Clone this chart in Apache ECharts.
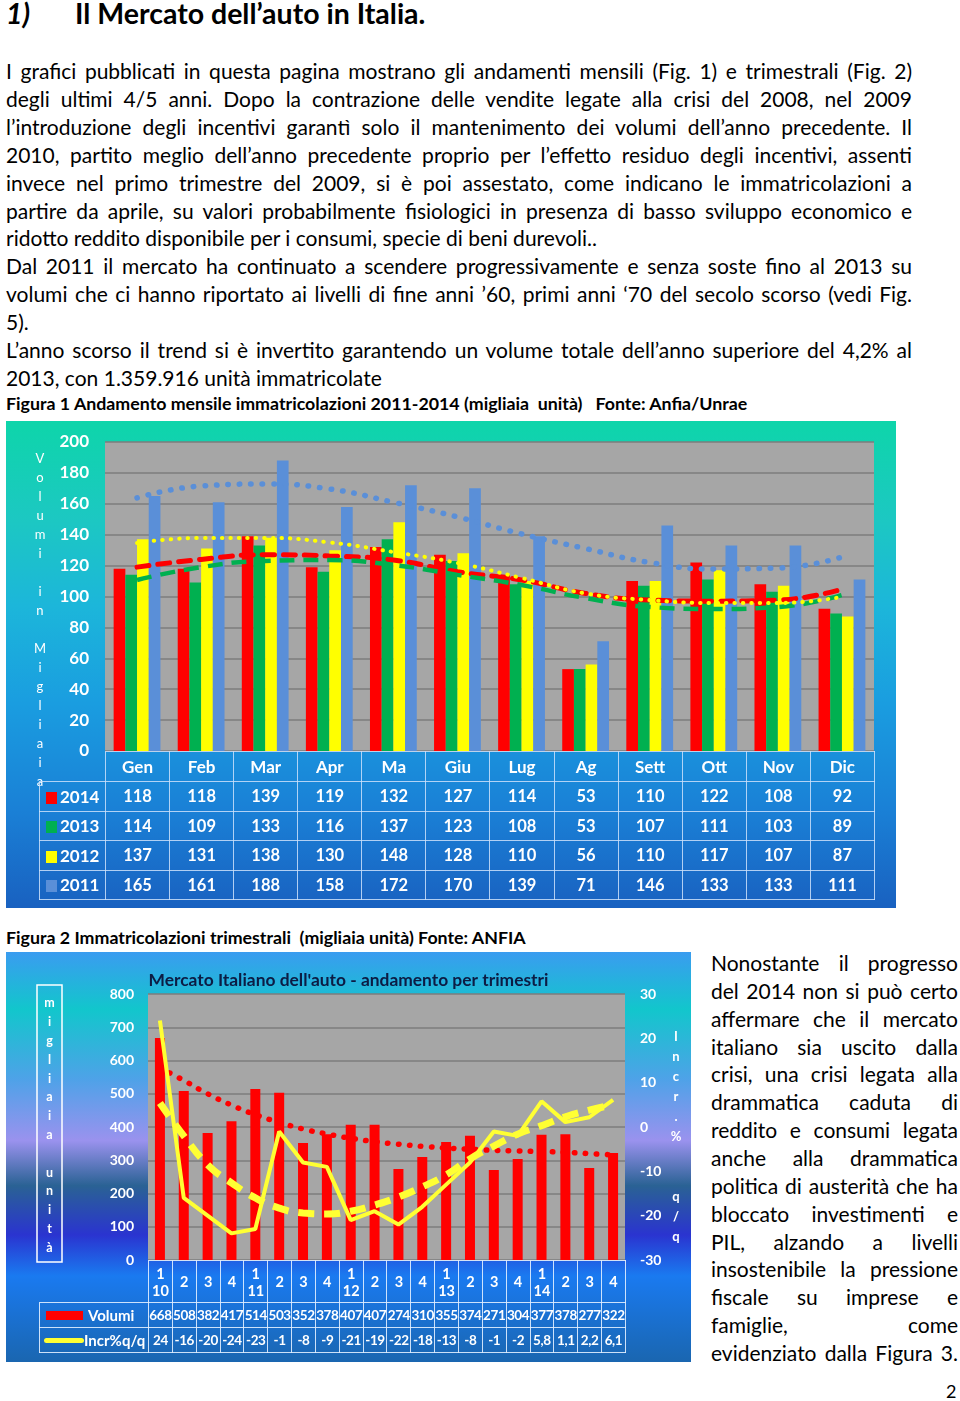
<!DOCTYPE html>
<html><head><meta charset="utf-8">
<script src="https://cdn.jsdelivr.net/npm/echarts/dist/echarts.min.js"></script>
<style>
body{margin:0;width:960px;height:1401px;position:relative;background:#fff;font-family:Lato,sans-serif;color:#000;overflow:hidden}
.abs{position:absolute}
.j{text-align:justify;text-align-last:justify}
.para{left:6px;width:906px;top:57px;font-size:21px;line-height:27.9px}
.rcol{left:711px;width:247px;top:949px;font-size:21px;line-height:27.86px}
.cap{font-weight:bold;font-size:17.8px;left:6px;white-space:pre}
.fig{position:absolute}
.fig .ch{position:absolute;left:0;top:0}
table{border-collapse:collapse;position:absolute;table-layout:fixed;color:#fff;font-weight:bold;font-family:Lato,sans-serif}
table td{padding:0;text-align:center;overflow:visible;white-space:nowrap}
.t1 td{border:1.5px solid rgba(205,225,250,0.85);font-size:16.5px}
.t1 td.corner{border-top:none;border-left:none}
.t1 .sw{display:inline-block;width:11px;height:12px;margin-right:3px;vertical-align:-1px}
.t2 td{border:1.5px solid rgba(225,238,255,0.9);font-size:13.5px;letter-spacing:-0.4px}
.t2 td.corner{border-top:none;border-left:none}
.t2 td.hd{font-size:14.5px;line-height:17px;letter-spacing:0}
.t2 td.leg{text-align:left;font-size:15px;letter-spacing:0}
</style></head>
<body>
<div class="abs" style="left:6px;top:-4px;font-size:28.5px;font-weight:bold;line-height:34px"><i>1)</i></div>
<div class="abs" style="left:75px;top:-4px;font-size:28.5px;font-weight:bold;line-height:34px">Il Mercato dell’auto in Italia.</div>

<div class="abs para">
<div class="j">I grafici pubblicati in questa pagina mostrano gli andamenti mensili (Fig. 1) e trimestrali (Fig. 2)</div>
<div class="j">degli ultimi 4/5 anni. Dopo la contrazione delle vendite legate alla crisi del 2008, nel 2009</div>
<div class="j">l’introduzione degli incentivi garantì solo il mantenimento dei volumi dell’anno precedente. Il</div>
<div class="j">2010, partito meglio dell’anno precedente proprio per l’effetto residuo degli incentivi, assenti</div>
<div class="j">invece nel primo trimestre del 2009, si è poi assestato, come indicano le immatricolazioni a</div>
<div class="j">partire da aprile, su valori probabilmente fisiologici in presenza di basso sviluppo economico e</div>
<div>ridotto reddito disponibile per i consumi, specie di beni durevoli..</div>
<div class="j">Dal 2011 il mercato ha continuato a scendere progressivamente e senza soste fino al 2013 su</div>
<div class="j">volumi che ci hanno riportato ai livelli di fine anni ’60, primi anni ‘70 del secolo scorso (vedi Fig.</div>
<div>5).</div>
<div class="j">L’anno scorso il trend si è invertito garantendo un volume totale dell’anno superiore del 4,2% al</div>
<div>2013, con 1.359.916 unità immatricolate</div>
</div>

<div class="abs cap" style="top:392px;line-height:22px">Figura 1 Andamento mensile immatricolazioni 2011-2014 (migliaia  unità)   Fonte: Anfia/Unrae</div>

<div class="fig" id="fig1" style="left:6px;top:421px;width:890px;height:487px">
  <div class="ch" id="c1" style="width:890px;height:487px;box-shadow:inset 0 0 0 1px #8c8c8c"></div>
</div>

<div class="abs cap" style="top:926px;line-height:22px">Figura 2 Immatricolazioni trimestrali  (migliaia unità) Fonte: ANFIA</div>

<div class="fig" id="fig2" style="left:6px;top:952px;width:685px;height:410px">
  <div class="ch" id="c2" style="width:685px;height:410px"></div>
</div>

<div class="abs rcol">
<div class="j">Nonostante il progresso</div>
<div class="j">del 2014 non si può certo</div>
<div class="j">affermare che il mercato</div>
<div class="j">italiano sia uscito dalla</div>
<div class="j">crisi, una crisi legata alla</div>
<div class="j">drammatica caduta di</div>
<div class="j">reddito e consumi legata</div>
<div class="j">anche alla drammatica</div>
<div class="j">politica di austerità che ha</div>
<div class="j">bloccato investimenti e</div>
<div class="j">PIL, alzando a livelli</div>
<div class="j">insostenibile la pressione</div>
<div class="j">fiscale su imprese e</div>
<div class="j">famiglie, come</div>
<div class="j">evidenziato dalla Figura 3.</div>
</div>
<div class="abs" style="left:946px;top:1380px;font-size:18px;line-height:22px">2</div>

<script>
// ---------- Figure 1 data ----------
const months = ['Gen','Feb','Mar','Apr','Ma','Giu','Lug','Ag','Sett','Ott','Nov','Dic'];
const years = ['2014','2013','2012','2011'];
const v2014 = [118,118,139,119,132,127,114,53,110,122,108,92];
const v2013 = [114,109,133,116,137,123,108,53,107,111,103,89];
const v2012 = [137,131,138,130,148,128,110,56,110,117,107,87];
const v2011 = [165,161,188,158,172,170,139,71,146,133,133,111];
// trend lines
const trend2014 = [119,124,127,126.2,123.6,116,110.7,102,97.7,97,97.7,104.8];
const trend2013 = [110.7,119,123,123.6,120.4,114,107.4,99,93.2,91.9,93.2,101];
const trend2012 = [134.6,137.9,137.9,135,128.8,121.7,112,102,97.7,95.8,95.8,99.7];
const trend2011 = [163.8,171.5,172.8,169.6,161,151.5,140.5,131,122,117.8,118.4,125.5];
const yTitle1 = 'Volumi in Migliaia';

// ---------- Figure 2 data ----------
const quarters = ['1\n10','2','3','4','1\n11','2','3','4','1\n12','2','3','4','1\n13','2','3','4','1\n14','2','3','4'];
const volumi = [668,508,382,417,514,503,352,378,407,407,274,310,355,374,271,304,377,378,277,322];
const incr = [24,-16,-20,-24,-23,-1,-8,-9,-21,-19,-22,-18,-13,-8,-1,-2,5.8,1.1,2.2,6.1];
const trendVol = [578,540,500,466,437,414,394,379,366,356,348,342,337,333,330,328,326,324,320,316];
const trendIncr = [5.4,-2,-8.5,-12.6,-16,-18.3,-19.4,-19.6,-19,-17.6,-15.8,-13.5,-10.8,-7.2,-4.3,-1.6,0.3,2.3,3.8,5.0];
const title2 = "Mercato Italiano dell'auto - andamento per trimestri";
const yTitle2L = 'migliaia unità';
const yTitle2R = 'Incr.% q/q';

const yearVals = [v2014, v2013, v2012, v2011];
const yearTrends = [trend2014, trend2013, trend2012, trend2011];
const yearColors = ['#ff0000','#00b050','#ffff00','#5a8fd8'];

function vertical(s){ return s.split('').map(c => c === ' ' ? '' : c).join('\n'); }
function fmt(v){ return String(v).replace('.', ','); }

// ---------- Chart 1 ----------
const c1 = echarts.init(document.getElementById('c1'));
const trendStyles = [
  {color:'#ff0000', width:5, type:[12,9], cap:'round'},
  {color:'#00b050', width:4.5, type:[15,9], cap:'butt'},
  {color:'#ffff00', width:4, type:[0.5,8], cap:'round'},
  {color:'#5a8fd8', width:5.5, type:[0.5,11], cap:'round'}
];
c1.setOption({
  animation:false,
  backgroundColor:{type:'linear',x:0,y:0,x2:0,y2:1,colorStops:[
    {offset:0,color:'#0ed5aa'},{offset:0.2,color:'#1cc8c2'},{offset:0.38,color:'#1cb6da'},
    {offset:0.58,color:'#1a9de0'},{offset:0.8,color:'#1a80d6'},{offset:1,color:'#1961c0'}]},
  grid:{left:99,top:21,width:769,height:309,show:true,backgroundColor:'#a6a6a6',borderWidth:0},
  xAxis:{type:'category',data:months,axisLabel:{show:false},axisTick:{show:false},axisLine:{show:false}},
  yAxis:{type:'value',min:0,max:200,interval:20,
    axisLabel:{color:'#fff',fontWeight:'bold',fontSize:17,fontFamily:'Lato',margin:16},
    axisLine:{show:false},axisTick:{show:false},
    splitLine:{lineStyle:{color:'#7c7c7c',width:1.5}}},
  series:[
    ...years.map((y,i)=>({name:y,type:'bar',data:yearVals[i],barWidth:11.7,barGap:'0%',
      itemStyle:{color:yearColors[i]},z:2})),
    ...years.map((y,i)=>({name:'trend '+y,type:'line',data:yearTrends[i],smooth:true,
      symbol:'none',lineStyle:trendStyles[i],z:4}))
  ],
  graphic:[{type:'text',x:34,y:28,style:{text:vertical(yTitle1),fill:'#ffffff',fontSize:13,
    fontFamily:'Lato',lineHeight:19,align:'center',verticalAlign:'top'}}]
});

// table 1
(function(){
  const t = document.createElement('table');
  t.className = 't1';
  const colW = 769/12;
  t.style.left = '33px'; t.style.top = '330px'; t.style.width = (66+769)+'px';
  let h = '<colgroup><col style="width:66px">' + months.map(()=>'<col style="width:'+colW+'px">').join('') + '</colgroup>';
  h += '<tr style="height:30px"><td class="corner"></td>' + months.map(m=>'<td style="font-size:17px">'+m+'</td>').join('') + '</tr>';
  years.forEach((y,i)=>{
    h += '<tr style="height:29.5px"><td style="text-align:left;padding-left:6px;font-size:17px"><span class="sw" style="background:'+yearColors[i]+'"></span>'+y+'</td>' +
      yearVals[i].map(v=>'<td>'+v+'</td>').join('') + '</tr>';
  });
  t.innerHTML = h;
  document.getElementById('fig1').appendChild(t);
})();

// ---------- Chart 2 ----------
const c2 = echarts.init(document.getElementById('c2'));
c2.setOption({
  animation:false,
  backgroundColor:{type:'linear',x:0,y:0,x2:0,y2:1,colorStops:[
    {offset:0,color:'#3a9cf0'},{offset:0.14,color:'#12c6cc'},{offset:0.31,color:'#4ea2e8'},
    {offset:0.46,color:'#9a92ee'},{offset:0.57,color:'#2a6294'},{offset:0.69,color:'#2a34d0'},
    {offset:0.79,color:'#1a7af0'},{offset:1,color:'#1a66b0'}]},
  title:{text:title2,left:'center',top:15,textStyle:{color:'#0c1c44',fontSize:17.4,fontWeight:'bold',fontFamily:'Lato'}},
  grid:{left:142,top:42,width:477,height:266,show:true,backgroundColor:'#a6a6a6',borderWidth:0},
  xAxis:{type:'category',data:quarters.map((q,i)=>String(i)),axisLabel:{show:false},axisTick:{show:false},axisLine:{show:false}},
  yAxis:[
    {type:'value',min:0,max:800,interval:100,
      axisLabel:{color:'#fff',fontWeight:'bold',fontSize:14,fontFamily:'Lato',margin:14},
      axisLine:{show:false},axisTick:{show:false},
      splitLine:{lineStyle:{color:'#7c7c7c',width:1.5}}},
    {type:'value',min:-30,max:30,interval:10,position:'right',
      axisLabel:{color:'#fff',fontWeight:'bold',fontSize:14,fontFamily:'Lato',margin:15},
      axisLine:{show:false},axisTick:{show:false},splitLine:{show:false}}
  ],
  series:[
    {name:'Volumi',type:'bar',data:volumi,barWidth:10,itemStyle:{color:'#ff0000'},z:2},
    {name:'trend Volumi',type:'line',data:trendVol,smooth:true,symbol:'none',
      lineStyle:{color:'#ff0000',width:5.5,type:[0.5,10.5],cap:'round'},z:3},
    {name:'Incr%q/q',type:'line',yAxisIndex:1,data:incr,symbol:'none',
      lineStyle:{color:'#ffff33',width:4},z:4},
    {name:'trend Incr',type:'line',yAxisIndex:1,data:trendIncr,smooth:true,symbol:'none',
      lineStyle:{color:'#ffff33',width:7,type:[16,10],cap:'butt'},z:4}
  ],
  graphic:[
    {type:'rect',shape:{x:31,y:33,width:25,height:277},style:{fill:'none',stroke:'#ffffff',lineWidth:1.5}},
    {type:'text',x:43.5,y:42,style:{text:vertical(yTitle2L),fill:'#ffffff',fontSize:12.5,fontWeight:'bold',
      fontFamily:'Lato',lineHeight:18.8,align:'center',verticalAlign:'top'}},
    {type:'text',x:670,y:75,style:{text:vertical(yTitle2R.replace('% ','%  ')),fill:'#ffffff',fontSize:13,fontWeight:'bold',
      fontFamily:'Lato',lineHeight:20,align:'center',verticalAlign:'top'}}
  ]
});

// table 2
(function(){
  const t = document.createElement('table');
  t.className = 't2';
  const colW = 477/20;
  t.style.left = '33px'; t.style.top = '308px'; t.style.width = (109+477)+'px';
  let h = '<colgroup><col style="width:109px">' + quarters.map(()=>'<col style="width:'+colW+'px">').join('') + '</colgroup>';
  h += '<tr style="height:42px"><td class="corner"></td>' + quarters.map(q=>'<td class="hd">'+q.replace('\n','<br>')+'</td>').join('') + '</tr>';
  h += '<tr style="height:25px"><td class="leg"><span style="display:inline-block;width:37px;height:9px;background:#ff0000;margin:0 5px 0 6px;vertical-align:1px"></span>Volumi</td>' +
    volumi.map(v=>'<td>'+v+'</td>').join('') + '</tr>';
  h += '<tr style="height:25px"><td class="leg"><span style="display:inline-block;width:40px;height:5px;border-radius:3px;background:#ffff33;margin:0 0 0 4px;vertical-align:3px"></span>Incr%q/q</td>' +
    incr.map(v=>'<td>'+fmt(v)+'</td>').join('') + '</tr>';
  t.innerHTML = h;
  document.getElementById('fig2').appendChild(t);
})();
</script>
</body></html>
